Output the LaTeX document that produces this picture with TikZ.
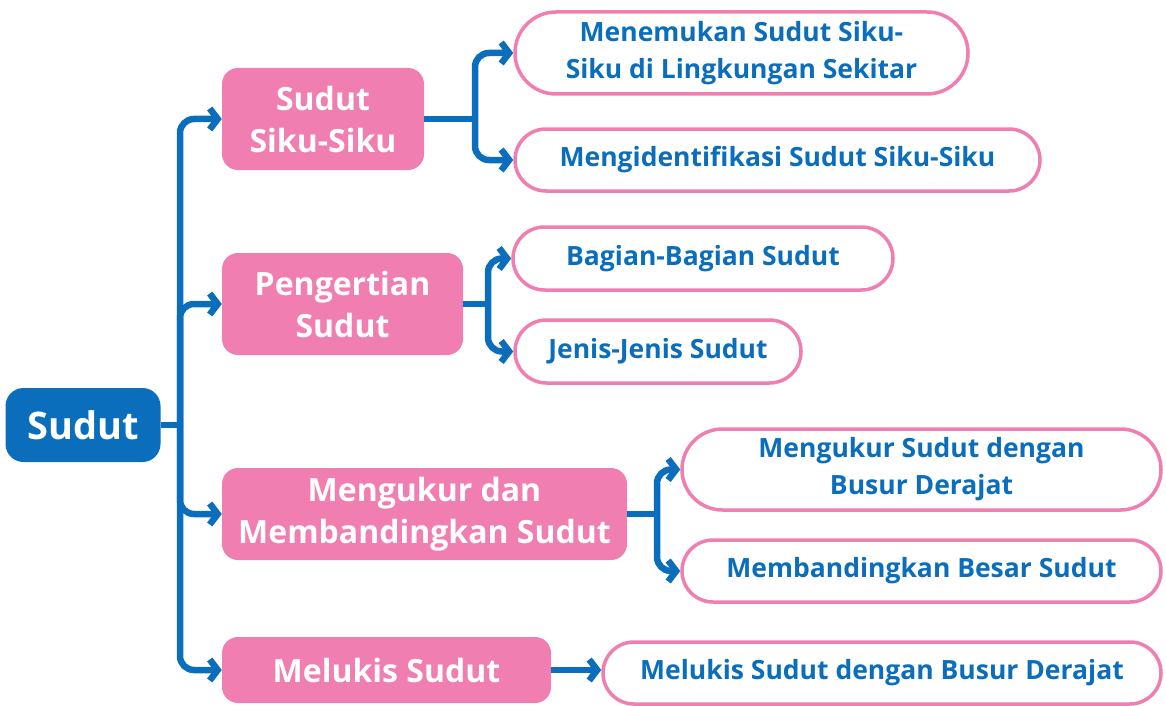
\documentclass[tikz,border=0pt]{standalone}
\usepackage{fontspec}
\setmainfont{Open Sans}
\usepackage{tikz}
\usetikzlibrary{arrows.meta, shapes.misc}
\definecolor{topicpink}{HTML}{F07EB1}
\definecolor{mapblue}{HTML}{0A6EBC}

\begin{document}
\begin{tikzpicture}[x=1pt, y=-1pt,
    rootbox/.style={fill=mapblue, text=white, rounded corners=18pt, inner sep=0pt,
      font=\bfseries\fontsize{38}{44}\selectfont, minimum width=155pt, minimum height=74pt},
    topic/.style={fill=topicpink, text=white, rounded corners=16pt, align=center, inner sep=0pt,
      font=\bfseries\fontsize{32}{42}\selectfont},
    leaf/.style={draw=topicpink, line width=3.5pt, fill=white, text=mapblue, rounded rectangle,
      align=center, inner sep=0pt, font=\bfseries\fontsize{26.5}{37}\selectfont},
    link/.style={mapblue, line width=6.5pt, rounded corners=14pt},
    arr/.style={link, -{Straight Barb[length=8pt, width=21pt]}}
  ]
  \useasboundingbox (0,0) rectangle (1166,706);

  % root and topics
  \node[rootbox] (sudut) at (83,425) {Sudut};
  \node[topic, minimum width=202pt, minimum height=102pt] (siku) at (323,119) {Sudut\\Siku-Siku};
  \node[topic, minimum width=241pt, minimum height=102pt] (arti) at (342.5,304) {Pengertian\\Sudut};
  \node[topic, minimum width=405pt, minimum height=92pt] (ukur) at (424.5,514) {Mengukur dan\\Membandingkan Sudut};
  \node[topic, minimum width=329pt, minimum height=66pt] (lukis) at (386.5,670) {Melukis Sudut};

  % leaves
  \node[leaf, minimum width=453pt, minimum height=82pt] (sikuA) at (741.5,53) {Menemukan Sudut Siku-\\Siku di Lingkungan Sekitar};
  \node[leaf, minimum width=525pt, minimum height=62pt] (sikuB) at (777.5,160) {Mengidentifikasi Sudut Siku-Siku};
  \node[leaf, minimum width=380pt, minimum height=63pt] (artiA) at (703,258.5) {Bagian-Bagian Sudut};
  \node[leaf, minimum width=286pt, minimum height=63pt] (artiB) at (658,351.5) {Jenis-Jenis Sudut};
  \node[leaf, minimum width=479pt, minimum height=81pt] (ukurA) at (921.5,469.5) {Mengukur Sudut dengan\\Busur Derajat};
  \node[leaf, minimum width=479pt, minimum height=62pt] (ukurB) at (921.5,571) {Membandingkan Besar Sudut};
  \node[leaf, minimum width=558pt, minimum height=62pt] (lukisA) at (882,673) {Melukis Sudut dengan Busur Derajat};

  % trunk
  \coordinate (trunk) at (180,425);
  \draw[link] (sudut.east) -- (trunk);
  \draw[arr] (trunk) |- (siku.west);
  \draw[arr] (trunk) |- (arti.west);
  \draw[arr] (trunk) |- (ukur.west);
  \draw[arr] (trunk) |- (lukis.west);

  % forks
  \coordinate (fork1) at (475,119);
  \coordinate (fork2) at (488,304);
  \coordinate (fork3) at (657,514);
  \draw[link] (siku.east) -- (fork1);
  \draw[arr] (fork1) |- (sikuA.west);
  \draw[arr] (fork1) |- (sikuB.west);
  \draw[link] (arti.east) -- (fork2);
  \draw[arr] (fork2) |- (artiA.west);
  \draw[arr] (fork2) |- (artiB.west);
  \draw[link] (ukur.east) -- (fork3);
  \draw[arr] (fork3) |- (ukurA.west);
  \draw[arr] (fork3) |- (ukurB.west);
  \draw[arr] (lukis.east) -- (lukis.east -| lukisA.west);
\end{tikzpicture}
\end{document}
